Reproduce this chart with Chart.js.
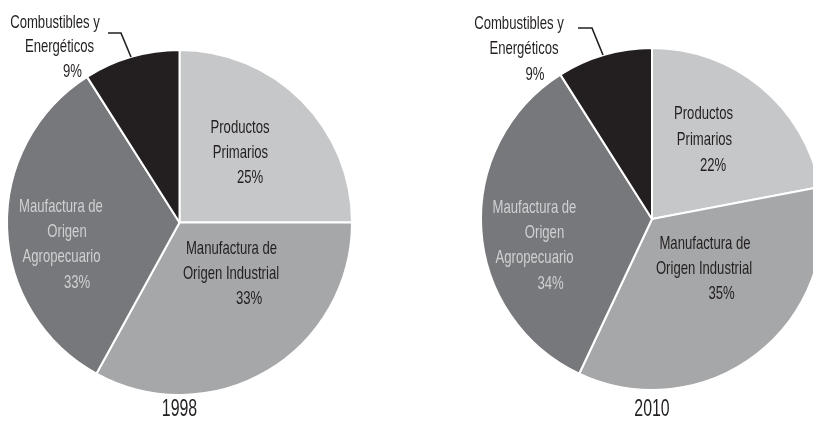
<!DOCTYPE html>
<html>
<head>
<meta charset="utf-8">
<script src="https://cdn.jsdelivr.net/npm/chart.js@4/dist/chart.umd.min.js"></script>
<style>
  html, body { margin: 0; padding: 0; background: #ffffff; width: 813px; height: 438px; overflow: hidden; }
  #wrap { position: relative; width: 813px; height: 438px; overflow: hidden; }
  .pie { position: absolute; top: 0; }
  #c1 { left: 0px; }
  #c2 { left: 452px; }
</style>
</head>
<body>
<div id="wrap">
  <canvas id="c1" class="pie" width="359" height="438"></canvas>
  <canvas id="c2" class="pie" width="400" height="438"></canvas>
</div>
<script>
// ---- Data ----
const categories = ["Productos Primarios", "Manufactura de Origen Industrial", "Maufactura de Origen Agropecuario", "Combustibles y Energéticos"];
const categoryLines = [["Productos", "Primarios"], ["Manufactura de", "Origen Industrial"], ["Maufactura de", "Origen", "Agropecuario"], ["Combustibles y", "Energéticos"]];
const years = ["1998", "2010"];
const values1998 = [25, 33, 33, 9];
const values2010 = [22, 35, 34, 9];

// ---- Styles ----
const sliceColors = ["#c6c7c9", "#a6a7a9", "#77787b", "#231f20"];
const textColors = ["#231f20", "#231f20", "#cfd0d2", "#231f20"];
const FONT = "'Liberation Sans', Arial, sans-serif";
const X_SCALE = 0.69; // condensed look

// label line offsets (dx, dy) relative to the pie centre, one entry per line (name lines + percentage line)
const labelLayout = [
  [ // 1998
    [[60.5, -94.5], [61, -69.5], [70.5, -44.5]],
    [[52, 26.5], [51.5, 51.5], [69.5, 76.5]],
    [[-118.5, -15.5], [-112.5, 9.5], [-118, 34.5], [-102.5, 60.5]],
    [[-124.5, -199.5], [-120, -175.5], [-107, -150.5]]
  ],
  [ // 2010
    [[51.5, -105], [52.5, -79], [61, -53]],
    [[53, 25], [52, 50], [69.5, 75]],
    [[-117.5, -11], [-107.5, 14], [-117.5, 39], [-101.5, 65]],
    [[-133, -195], [-128, -170], [-117, -144]]
  ]
];
const leaderLayout = [
  [[-71.5, -189.5], [-58.5, -189.5], [-48.5, -165.5]],
  [[-74, -191], [-60, -191], [-49, -164]]
];
const yearOffset = [187.5, 191];

function condensedText(ctx, t, x, y) {
  ctx.save();
  ctx.translate(x, y);
  ctx.scale(X_SCALE, 1);
  ctx.fillText(t, 0, 0);
  ctx.restore();
}

const labelPlugin = {
  id: 'sliceLabels',
  afterDraw(chart) {
    const idx = chart.options.plugins.sliceLabels.index;
    const meta = chart.getDatasetMeta(0);
    const arc = meta.data[0];
    const cx = arc.x, cy = arc.y;
    const vals = chart.data.datasets[0].data;
    const ctx = chart.ctx;
    ctx.save();
    ctx.textAlign = 'center';
    ctx.textBaseline = 'middle';
    ctx.font = "19px " + FONT;
    categoryLines.forEach((lines, i) => {
      const all = lines.concat([vals[i] + "%"]);
      ctx.fillStyle = textColors[i];
      all.forEach((t, j) => {
        const p = labelLayout[idx][i][j];
        condensedText(ctx, t, cx + p[0], cy + p[1]);
      });
    });
    // leader line
    const L = leaderLayout[idx];
    ctx.strokeStyle = "#231f20";
    ctx.lineWidth = 1.6;
    ctx.beginPath();
    ctx.moveTo(cx + L[0][0], cy + L[0][1]);
    ctx.lineTo(cx + L[1][0], cy + L[1][1]);
    ctx.lineTo(cx + L[2][0], cy + L[2][1]);
    ctx.stroke();
    // year
    ctx.fillStyle = "#231f20";
    ctx.font = "23px " + FONT;
    condensedText(ctx, years[idx], cx, cy + yearOffset[idx]);
    ctx.restore();
  }
};

function makePie(id, values, idx, radius, pad) {
  return new Chart(document.getElementById(id), {
    type: 'pie',
    data: {
      labels: categories,
      datasets: [{
        data: values,
        backgroundColor: sliceColors,
        borderColor: "#ffffff",
        borderWidth: 2,
        radius: radius
      }]
    },
    options: {
      responsive: false,
      animation: false,
      events: [],
      layout: { padding: pad },
      plugins: {
        legend: { display: false },
        tooltip: { enabled: false },
        sliceLabels: { index: idx }
      }
    },
    plugins: [labelPlugin]
  });
}

makePie('c1', values1998, 0, 172.5, { top: 7, bottom: 0, left: 0, right: 0 });
makePie('c2', values2010, 1, 171, { top: 0, bottom: 0, left: 0, right: 0 });
</script>
</body>
</html>
